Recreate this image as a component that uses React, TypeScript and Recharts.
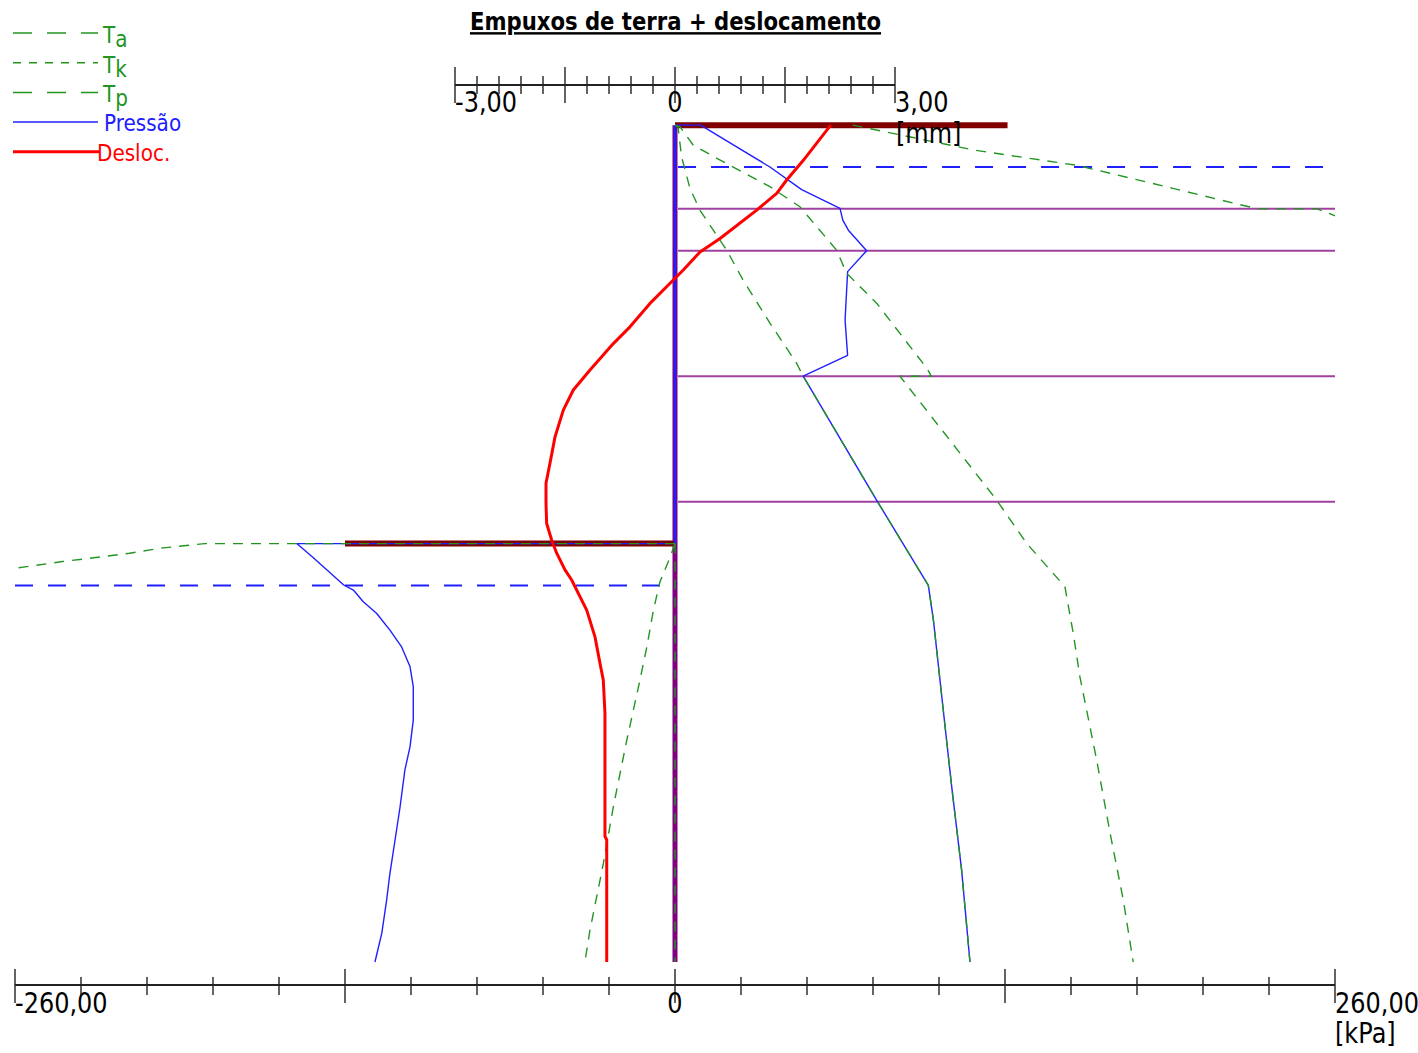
import React from 'react';
import { ScatterChart, Scatter, XAxis, YAxis, ReferenceLine, Legend } from 'recharts';

const W = 1418;
const H = 1053;
const FONT = "'DejaVu Sans', Verdana, sans-serif";
const SY = 1.15;

const GREEN = '#229522';
const BLUE = '#2020ff';
const RED = '#ff0000';
const PURPLE = '#a040a0';
const WALL_C = '#800080';
const BROWN = '#800000';
const AXIS_C = '#222';

// axis domains: depth [m], pressure [kPa], displacement [mm]
const DEPTH_DOMAIN: [number, number] = [-0.96, 20.55];
const KPA_DOMAIN: [number, number] = [-260, 260];
const MM_DOMAIN: [number, number] = [-9, 9];

// tick values and labels
const KPA_TICKS = [-260, -234, -208, -182, -156, -130, -104, -78, -52, -26, 0, 26, 52, 78, 104, 130, 156, 182, 208, 234, 260];
const KPA_MAJOR = [-260, -130, 0, 130, 260];
const KPA_LABELS: Record<string, string> = { '-260': '-260,00', '0': '0', '260': '260,00' };
const MM_TICKS = [-3, -2.7, -2.4, -2.1, -1.8, -1.5, -1.2, -0.9, -0.6, -0.3, 0, 0.3, 0.6, 0.9, 1.2, 1.5, 1.8, 2.1, 2.4, 2.7, 3];
const MM_MAJOR = [-3, -1.5, 0, 1.5, 3];
const MM_LABELS: Record<string, string> = { '-3': '-3,00', '0': '0', '3': '3,00' };

type Pt = [number, number]; // [value, depth]

// structure
const WALL: Pt[] = [[0, 0], [0, 20]];
const GROUND_RIGHT: Pt[] = [[0, 0], [131, 0]];
const GROUND_LEFT: Pt[] = [[-130, 10], [0, 10]];
const LAYER_DEPTHS = [2, 3, 6, 9];
const GWT_RIGHT: Pt[] = [[1.2, 1], [260, 1]];
const GWT_LEFT: Pt[] = [[-260, 11], [0, 11]];

// earth pressures [kPa] vs depth [m]
const PRESS_RIGHT: Pt[] = [
  [0, 0], [10.1, 0], [37.4, 1.0], [49.9, 1.54], [65.0, 1.99], [66.1, 2.27], [68.3, 2.51], [75.5, 3.0],
  [68.0, 3.5], [67.0, 4.66], [68.0, 5.5], [50.5, 6.0], [79.4, 8.96], [99.8, 11.0], [101.8, 11.83],
  [105.1, 13.66], [109.0, 15.81], [112.9, 17.8], [116.2, 20.0],
];
const PRESS_LEFT_TOP: Pt[] = [[0, 0], [0, 10]];
const PRESS_LEFT: Pt[] = [
  [0, 10], [-149.0, 10.0], [-142.8, 10.32], [-130.5, 10.99], [-126.7, 11.11], [-122.8, 11.39],
  [-117.5, 11.67], [-112.3, 12.07], [-107.7, 12.47], [-104.4, 12.94], [-103.1, 13.42], [-103.1, 14.22],
  [-104.4, 14.86], [-106.4, 15.41], [-108.3, 16.29], [-110.3, 17.09], [-112.3, 17.88], [-113.6, 18.52],
  [-115.5, 19.31], [-118.2, 20.0],
];
const TA_RIGHT: Pt[] = [
  [0, 0], [1.2, 0.05], [2.6, 0.76], [5.9, 1.51], [9.8, 2.03], [20.4, 2.99], [26.8, 3.7], [37.4, 4.73],
  [47.9, 5.69], [50.5, 6.0], [79.4, 8.96], [99.8, 11.0], [101.8, 11.83], [105.1, 13.66], [109.0, 15.81],
  [112.9, 17.8], [116.2, 20.0],
];
const TA_LEFT: Pt[] = [[0, 10], [0, 20]];
const TK_RIGHT: Pt[] = [
  [0, 0], [2.0, 0.04], [7.2, 0.48], [20.4, 0.92], [37.4, 1.47], [49.2, 1.95], [63.7, 2.99], [67.6, 3.54],
  [79.5, 4.26], [99.2, 5.81], [101.0, 6.0], [88.6, 6.0], [126.7, 8.96], [138.6, 10.0], [153.6, 11.03],
  [156.9, 12.15], [159.5, 13.18], [166.1, 15.17], [171.4, 16.92], [176.6, 18.52], [180.5, 20.0],
];
const TK_LEFT: Pt[] = [
  [0, 10], [-2.1, 10.35], [-5.9, 10.91], [-8.5, 11.59], [-11.1, 12.47], [-13.8, 13.26], [-19.0, 14.7],
  [-24.3, 16.29], [-28.2, 17.64], [-33.5, 19.24], [-35.5, 20.0],
];
const TP_RIGHT: Pt[] = [
  [70, 0], [100.5, 0.38], [118.2, 0.6], [158.4, 0.96], [171.4, 1.15], [196.2, 1.51], [221.8, 1.89],
  [229.7, 2.0], [253, 2.0], [295, 3.0],
];
const TP_LEFT: Pt[] = [
  [0, 10], [-185.2, 10.0], [-202.6, 10.11], [-214.9, 10.23], [-229.0, 10.34], [-241.3, 10.43],
  [-255.4, 10.55], [-310, 11.0],
];

// wall displacement [mm] vs depth [m]
const DISPL: Pt[] = [
  [2.123, 0], [1.75, 0.84], [1.523, 1.31], [1.387, 1.63], [1.114, 2.03], [0.614, 2.71], [0.341, 3.03],
  [0.113, 3.46], [-0.023, 3.7], [-0.341, 4.26], [-0.614, 4.82], [-0.841, 5.22], [-1.159, 5.85],
  [-1.387, 6.33], [-1.523, 6.81], [-1.636, 7.45], [-1.705, 8.08], [-1.759, 8.56], [-1.759, 9.04],
  [-1.75, 9.52], [-1.681, 9.92], [-1.613, 10.23], [-1.5, 10.63], [-1.409, 10.87], [-1.204, 11.59],
  [-1.091, 12.23], [-1.023, 12.86], [-0.978, 13.26], [-0.955, 14.06], [-0.955, 17.0], [-0.931, 17.08],
  [-0.931, 20.0],
];

const toXY = (arr: Pt[]) => arr.map(([x, y]) => ({ x, y }));
const NoShape = () => null;

const series = (key: string, data: Pt[], stroke: string, width: number, dash?: string, axis = 'kpa') => (
  <Scatter
    key={key}
    name={key}
    xAxisId={axis}
    data={toXY(data)}
    fill={stroke}
    shape={NoShape as any}
    line={{ stroke, strokeWidth: width, strokeDasharray: dash, fill: 'none', strokeLinejoin: 'round' } as any}
    isAnimationActive={false}
    legendType="none"
  />
);

const STxt = ({ x, y, size, anchor = 'start', fill = '#000', bold = false, underline = false, children }: any) => (
  <text
    transform={`translate(${x},${y}) scale(1,${SY})`}
    textAnchor={anchor}
    fontFamily={FONT}
    fontSize={size}
    fontWeight={bold ? 'bold' : 'normal'}
    fill={fill}
    style={underline ? { textDecoration: 'underline' } : undefined}
  >
    {children}
  </text>
);

const near = (a: number, list: number[]) => list.some((m) => Math.abs(m - a) < 1e-6);
const labelOf = (v: number, map: Record<string, string>) => {
  const k = Object.keys(map).find((kk) => Math.abs(Number(kk) - v) < 1e-6);
  return k !== undefined ? map[k] : undefined;
};

const KpaTick = (props: any) => {
  const { x, y, payload } = props;
  const v = payload.value as number;
  const major = near(v, KPA_MAJOR);
  const label = labelOf(v, KPA_LABELS);
  return (
    <g>
      <line x1={x} x2={x} y1={y - (major ? 16 : 8)} y2={y + (major ? 18 : 10)} stroke={AXIS_C} strokeWidth={1.4} />
      {label && (
        <STxt x={x} y={y + 28} size={24} anchor={Math.abs(v) < 1e-6 ? 'middle' : 'start'}>
          {label}
        </STxt>
      )}
      {Math.abs(v - KPA_DOMAIN[1]) < 1e-6 && (
        <STxt x={x} y={y + 58} size={24}>
          [kPa]
        </STxt>
      )}
    </g>
  );
};

const MmTick = (props: any) => {
  const { x, y, payload } = props;
  const v = payload.value as number;
  const major = near(v, MM_MAJOR);
  const label = labelOf(v, MM_LABELS);
  return (
    <g>
      <line x1={x} x2={x} y1={y - (major ? 18 : 9)} y2={y + (major ? 18 : 9)} stroke={AXIS_C} strokeWidth={1.4} />
      {label && (
        <STxt x={x} y={y + 27} size={24} anchor={Math.abs(v) < 1e-6 ? 'middle' : 'start'}>
          {label}
        </STxt>
      )}
      {Math.abs(v - 3) < 1e-6 && (
        <STxt x={x + 1} y={y + 58} size={24}>
          [mm]
        </STxt>
      )}
    </g>
  );
};

const LEGEND_ITEMS = [
  { main: 'T', sub: 'a', color: GREEN, dash: '19 15', width: 1.5, textColor: GREEN },
  { main: 'T', sub: 'k', color: GREEN, dash: '8 8', width: 1.5, textColor: GREEN },
  { main: 'T', sub: 'p', color: GREEN, dash: '19 15', width: 1.5, textColor: GREEN },
  { main: 'Pressão', sub: '', color: BLUE, dash: undefined, width: 1.5, textColor: BLUE },
  { main: 'Desloc.', sub: '', color: RED, dash: undefined, width: 3, textColor: RED },
];

const LegendBox = () => (
  <svg width={200} height={170} style={{ display: 'block' }}>
    {LEGEND_ITEMS.map((it, i) => {
      const ly = 33 + i * 29.7;
      const last = i === LEGEND_ITEMS.length - 1;
      return (
        <g key={i}>
          <line x1={13} x2={last ? 100 : 98} y1={ly} y2={ly} stroke={it.color} strokeWidth={it.width} strokeDasharray={it.dash} />
          <STxt x={last ? 97 : it.sub ? 103 : 104} y={ly + (it.sub ? 10 : 9)} size={20} fill={it.textColor}>
            {it.main}
            {it.sub ? <tspan dy={3.5}>{it.sub}</tspan> : null}
          </STxt>
        </g>
      );
    })}
  </svg>
);

export default function App() {
  return (
    <div style={{ position: 'absolute', left: 0, top: 0, width: W, height: H, background: '#fff' }}>
      <ScatterChart width={W} height={H} margin={{ top: 55, right: 83, bottom: 38, left: 15 }}>
        <XAxis
          xAxisId="kpa"
          type="number"
          dataKey="x"
          orientation="bottom"
          domain={KPA_DOMAIN}
          allowDataOverflow
          ticks={KPA_TICKS}
          interval={0}
          height={30}
          tickSize={0}
          tickMargin={0}
          tickLine={false}
          axisLine={{ stroke: AXIS_C, strokeWidth: 2 }}
          tick={<KpaTick />}
        />
        <XAxis
          xAxisId="mm"
          type="number"
          dataKey="x"
          orientation="top"
          domain={MM_DOMAIN}
          allowDataOverflow
          ticks={MM_TICKS}
          interval={0}
          height={30}
          tickSize={0}
          tickMargin={0}
          tickLine={false}
          axisLine={false}
          tick={<MmTick />}
        />
        <YAxis type="number" dataKey="y" domain={DEPTH_DOMAIN} reversed allowDataOverflow hide width={0} />
        <ReferenceLine
          xAxisId="mm"
          segment={[{ x: MM_TICKS[0], y: DEPTH_DOMAIN[0] }, { x: MM_TICKS[MM_TICKS.length - 1], y: DEPTH_DOMAIN[0] }]}
          stroke={AXIS_C}
          strokeWidth={2}
          ifOverflow="visible"
        />
        <Legend
          layout="vertical"
          align="center"
          verticalAlign="middle"
          wrapperStyle={{ left: 0, top: 0, width: 200, height: 170 }}
          content={() => <LegendBox />}
        />
        {series('wall', WALL, WALL_C, 5)}
        {series('groundR', GROUND_RIGHT, BROWN, 6)}
        {series('groundL', GROUND_LEFT, BROWN, 6)}
        {LAYER_DEPTHS.map((d) => series('layer' + d, [[1.2, d], [260, d]], PURPLE, 2))}
        {series('gwtR', GWT_RIGHT, BLUE, 2, '18 15')}
        {series('gwtL', GWT_LEFT, BLUE, 2, '18 15')}
        {series('pLeftTop', PRESS_LEFT_TOP, BLUE, 2.5)}
        {series('pRight', PRESS_RIGHT, BLUE, 1.4)}
        {series('pLeft', PRESS_LEFT, BLUE, 1.4)}
        {series('taR', TA_RIGHT, GREEN, 1.4, '10 8')}
        {series('taL', TA_LEFT, GREEN, 1.4, '10 8')}
        {series('tkR', TK_RIGHT, GREEN, 1.4, '10 8')}
        {series('tkL', TK_LEFT, GREEN, 1.4, '10 8')}
        {series('tpR', TP_RIGHT, GREEN, 1.4, '10 8')}
        {series('tpL', TP_LEFT, GREEN, 1.4, '10 8')}
        {series('displ', DISPL, RED, 3, undefined, 'mm')}
      </ScatterChart>
      <svg width={W} height={45} style={{ position: 'absolute', left: 0, top: 0, pointerEvents: 'none' }}>
        <STxt x={675.5} y={30} size={21.2} anchor="middle" bold underline>
          Empuxos de terra + deslocamento
        </STxt>
      </svg>
    </div>
  );
}
